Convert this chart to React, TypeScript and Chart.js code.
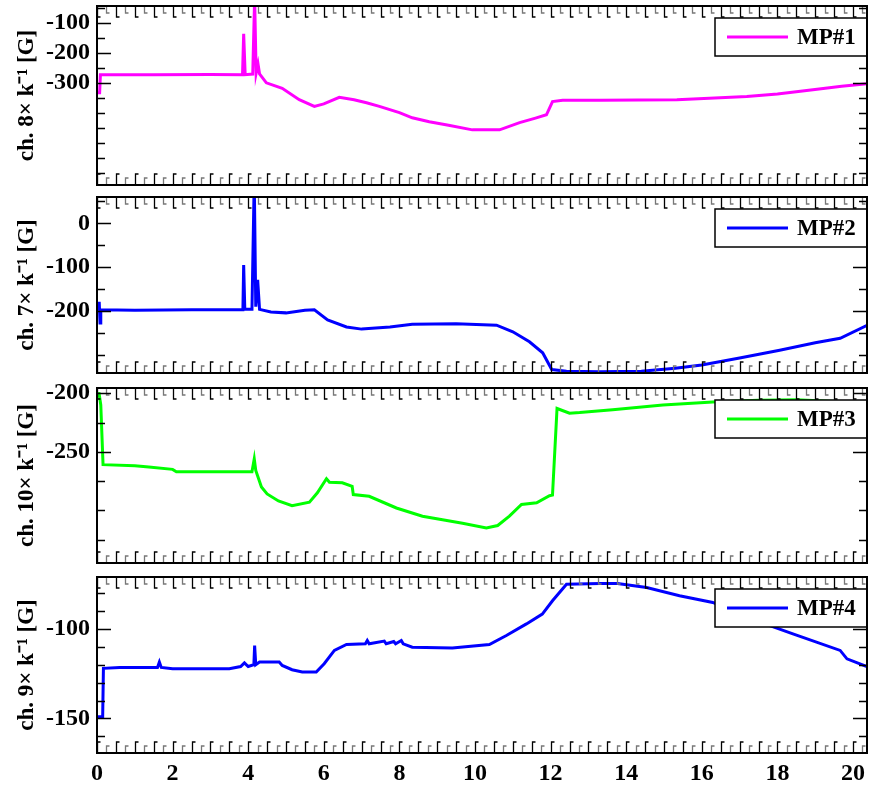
import React, { useEffect, useRef } from "react";
import { Chart, registerables } from "chart.js";

Chart.register(...registerables);

// ---------- data ----------
const xMax = 20.37;
const xLabelStep = 2;
const xTickStep = 0.25;

const mp1X = [0, 0.07, 0.09, 1.5, 3.0, 3.85, 3.88, 3.92, 4.12, 4.17, 4.21, 4.26, 4.3, 4.48, 4.9, 5.35, 5.75, 6.0, 6.41, 6.8, 7.13, 7.47, 8.0, 8.34, 8.79, 9.3, 9.93, 10.65, 11.18, 11.6, 11.89, 12.05, 12.32, 13.3, 15.34, 16.2, 17.19, 18.0, 18.94, 19.7, 20.5];
const mp1Y = [-333, -333, -273, -273, -272, -273, -137, -273, -271, -20, -268, -238, -270, -300, -318, -356, -378, -370, -348, -356, -366, -378, -399, -416, -429, -441, -456, -456, -432, -417, -406, -362, -358, -358, -356, -351, -345, -337, -323, -311, -301];

const mp2X = [0, 0.06, 0.08, 0.1, 1.0, 2.5, 3.86, 3.88, 3.91, 4.1, 4.16, 4.2, 4.25, 4.3, 4.6, 5.0, 5.5, 5.75, 6.1, 6.6, 7.0, 7.75, 8.34, 9.5, 10.57, 11.0, 11.44, 11.79, 12.03, 12.42, 13.3, 14.4, 15.3, 16.0, 17.0, 18.06, 19.0, 19.66, 20.5];
const mp2Y = [-182, -182, -227, -197, -198, -197, -197, -95, -196, -196, 100, -190, -129, -196, -202, -204, -198, -197, -220, -236, -241, -236, -230, -229, -232, -247, -270, -295, -333, -337, -338, -337, -330, -323, -307, -289, -272, -262, -227];

const mp3X = [0.05, 0.1, 0.16, 1.0, 1.37, 2.0, 2.1, 3.5, 4.1, 4.16, 4.2, 4.35, 4.5, 4.8, 5.16, 5.62, 5.83, 6.07, 6.15, 6.49, 6.75, 6.78, 7.2, 7.92, 8.61, 9.14, 9.67, 10.3, 10.6, 10.91, 11.23, 11.63, 11.97, 12.05, 12.17, 12.5, 12.77, 13.64, 14.97, 16.29, 17.5, 18.5, 19.5, 20.5];
const mp3Y = [-199, -210, -261, -262, -263, -265, -267, -267, -267, -256, -266, -280, -286, -292, -296, -293, -285, -273, -276, -276.5, -279.5, -286.5, -288, -298, -305, -308, -311, -315, -313, -305, -295, -293.5, -287.5, -287, -213, -217, -216.5, -214, -210, -207.5, -206, -205.5, -207, -210];

const mp4X = [0, 0.15, 0.17, 0.6, 1.6, 1.65, 1.7, 2.0, 3.5, 3.8, 3.9, 4.0, 4.15, 4.17, 4.2, 4.3, 4.82, 4.9, 5.16, 5.43, 5.8, 6.01, 6.28, 6.6, 7.1, 7.15, 7.2, 7.6, 7.65, 7.85, 7.9, 8.05, 8.1, 8.34, 9.4, 10.38, 10.83, 11.36, 11.78, 12.05, 12.42, 13.3, 13.77, 14.54, 15.41, 16.29, 17.19, 18.41, 19.66, 19.84, 20.5];
const mp4Y = [-149, -149, -122, -121.5, -121.5, -118.5, -121.5, -122.2, -122.2, -121, -119, -121, -120, -109.3, -120, -118.5, -118.5, -120.4, -122.8, -124.1, -124.1, -119.4, -112, -108.7, -108.3, -106.5, -108.3, -106.8, -108.3, -107, -108.3, -106.5, -108.3, -110.2, -110.6, -108.7, -103.7, -97.2, -91.7, -84.3, -75, -74.7, -74.7, -76.9, -81.5, -85.2, -93.6, -102.8, -112, -116.7, -122.2];

const seriesLabels = ["MP#1", "MP#2", "MP#3", "MP#4"];
const axisTitles = ["ch. 8\u00d7 k\u207b\u00b9 [G]", "ch. 7\u00d7 k\u207b\u00b9 [G]", "ch. 10\u00d7 k\u207b\u00b9 [G]", "ch. 9\u00d7 k\u207b\u00b9 [G]"];

const y1Labels = [-100, -200, -300];
const y1Ticks = [-50, -100, -150, -200, -250, -300, -350, -400, -450, -500, -550, -600];
const y2Labels = [0, -100, -200];
const y2Ticks = [50, 0, -50, -100, -150, -200, -250, -300];
const y3Labels = [-200, -250];
const y3Ticks = [-200, -225, -250, -275, -300, -325];
const y4Labels = [-100, -150];
const y4Ticks = [-80, -90, -100, -110, -120, -130, -140, -150, -160];

// ---------- layout / style ----------
const FONT = "'Liberation Serif', 'Times New Roman', serif";
const PLOT_LEFT = 97;
const PLOT_RIGHT = 867;
const PAD_TOP = 14;
const PAD_BOTTOM = 8;
const X_AXIS_H = 32;

const panels = [
  { xs: mp1X, ys: mp1Y, label: seriesLabels[0], title: axisTitles[0], color: "#ff00ff", yMin: -639, yMax: -45, yLabels: y1Labels, yTicks: y1Ticks, top: 6, bottom: 185, showX: false },
  { xs: mp2X, ys: mp2Y, label: seriesLabels[1], title: axisTitles[1], color: "#0000ff", yMin: -341, yMax: 60, yLabels: y2Labels, yTicks: y2Ticks, top: 197, bottom: 373, showX: false },
  { xs: mp3X, ys: mp3Y, label: seriesLabels[2], title: axisTitles[2], color: "#00ff00", yMin: -345, yMax: -195.5, yLabels: y3Labels, yTicks: y3Ticks, top: 388, bottom: 563, showX: false },
  { xs: mp4X, ys: mp4Y, label: seriesLabels[3], title: axisTitles[3], color: "#0000ff", yMin: -169.3, yMax: -71, yLabels: y4Labels, yTicks: y4Ticks, top: 577, bottom: 753, showX: true },
];

const decoPlugin = {
  id: "panelDeco",
  afterDatasetsDraw(chart: any, _args: any, opts: any) {
    const { ctx, chartArea: a, scales } = chart;
    const xs = scales.x;
    const ys = scales.y;
    ctx.save();
    // x ticks (top and bottom, inward)
    const n = Math.floor(xMax / xTickStep + 1e-6);
    for (let k = 0; k <= n; k++) {
      const px = Math.round(xs.getPixelForValue(k * xTickStep)) + 0.5;
      const major = k % 2 === 0;
      const len = major ? 11 : 7;
      ctx.strokeStyle = major ? "#000" : "#777";
      ctx.lineWidth = 1.3;
      ctx.beginPath();
      ctx.moveTo(px, a.top);
      ctx.lineTo(px, a.top + len);
      ctx.lineTo(px + 3, a.top + len);
      ctx.moveTo(px, a.bottom);
      ctx.lineTo(px, a.bottom - len);
      ctx.lineTo(px + 3, a.bottom - len);
      ctx.stroke();
    }
    // y ticks (left and right, inward)
    for (const v of opts.yTicks as number[]) {
      const py = Math.round(ys.getPixelForValue(v)) + 0.5;
      const major = (opts.yLabels as number[]).includes(v);
      const len = major ? 14 : 8;
      ctx.strokeStyle = "#000";
      ctx.lineWidth = 1.3;
      ctx.beginPath();
      ctx.moveTo(a.left, py);
      ctx.lineTo(a.left + len, py);
      ctx.moveTo(a.right, py);
      ctx.lineTo(a.right - len, py);
      ctx.stroke();
    }
    // legend box
    const ds = chart.data.datasets[0];
    const bw = 152, bh = 38;
    const bx = a.right - bw, by = a.top + 12;
    ctx.fillStyle = "#fff";
    ctx.fillRect(bx, by, bw, bh);
    ctx.strokeStyle = "#000";
    ctx.lineWidth = 1.5;
    ctx.strokeRect(bx, by, bw, bh);
    ctx.strokeStyle = ds.borderColor;
    ctx.lineWidth = 3;
    ctx.beginPath();
    ctx.moveTo(bx + 12, by + bh / 2);
    ctx.lineTo(bx + 73, by + bh / 2);
    ctx.stroke();
    ctx.fillStyle = "#000";
    ctx.font = `bold 23px ${FONT}`;
    ctx.textBaseline = "middle";
    ctx.textAlign = "left";
    ctx.fillText(ds.label, bx + 82, by + bh / 2 + 1);
    // frame
    ctx.strokeStyle = "#000";
    ctx.lineWidth = 2;
    ctx.strokeRect(a.left, a.top, a.right - a.left, a.bottom - a.top);
    ctx.restore();
  },
};

function makeConfig(p: (typeof panels)[number]): any {
  return {
    type: "line",
    data: {
      datasets: [
        {
          label: p.label,
          data: p.xs.map((x, i) => ({ x, y: p.ys[i] })),
          borderColor: p.color,
          backgroundColor: p.color,
          borderWidth: 3,
          pointRadius: 0,
          tension: 0,
          fill: false,
        },
      ],
    },
    options: {
      animation: false,
      responsive: false,
      maintainAspectRatio: false,
      events: [],
      layout: { padding: { top: PAD_TOP, bottom: p.showX ? 0 : PAD_BOTTOM, left: 0, right: 872 - PLOT_RIGHT } },
      plugins: {
        legend: { display: false },
        tooltip: { enabled: false },
        panelDeco: { yLabels: p.yLabels, yTicks: p.yTicks },
      },
      scales: {
        x: {
          type: "linear",
          min: 0,
          max: xMax,
          display: p.showX,
          grid: { display: false, drawTicks: false },
          border: { display: false },
          afterFit: (s: any) => {
            s.height = p.showX ? X_AXIS_H : 0;
            s.paddingLeft = 0;
            s.paddingRight = 0;
          },
          ticks: {
            stepSize: xLabelStep,
            includeBounds: false,
            maxRotation: 0,
            autoSkip: false,
            padding: 6,
            color: "#000",
            font: { family: FONT, size: 24, weight: "bold" },
          },
        },
        y: {
          type: "linear",
          min: p.yMin,
          max: p.yMax,
          grid: { display: false, drawTicks: false },
          border: { display: false },
          afterFit: (s: any) => {
            s.width = PLOT_LEFT;
            s.paddingTop = 0;
            s.paddingBottom = 0;
          },
          afterBuildTicks: (s: any) => {
            s.ticks = p.yLabels.map((v) => ({ value: v }));
          },
          ticks: {
            padding: 7,
            color: "#000",
            font: { family: FONT, size: 24, weight: "bold" },
          },
          title: {
            display: true,
            text: p.title,
            color: "#000",
            padding: { top: 13, bottom: 0 },
            font: { family: FONT, size: 23, weight: "bold" },
          },
        },
      },
    },
    plugins: [decoPlugin],
  };
}

export default function App() {
  const refs = useRef<(HTMLCanvasElement | null)[]>([]);
  useEffect(() => {
    const charts = panels.map((p, i) => new Chart(refs.current[i] as HTMLCanvasElement, makeConfig(p)));
    return () => charts.forEach((c) => c.destroy());
  }, []);
  return (
    <div style={{ position: "absolute", left: 0, top: 0, width: 872, height: 787, overflow: "hidden", background: "#fff" }}>
      {panels.map((p, i) => {
        const h = PAD_TOP + (p.bottom - p.top) + (p.showX ? X_AXIS_H : PAD_BOTTOM);
        return (
          <canvas
            key={i}
            ref={(el) => {
              refs.current[i] = el;
            }}
            width={872}
            height={h}
            style={{ position: "absolute", left: 0, top: p.top - PAD_TOP, width: 872, height: h }}
          />
        );
      })}
    </div>
  );
}
